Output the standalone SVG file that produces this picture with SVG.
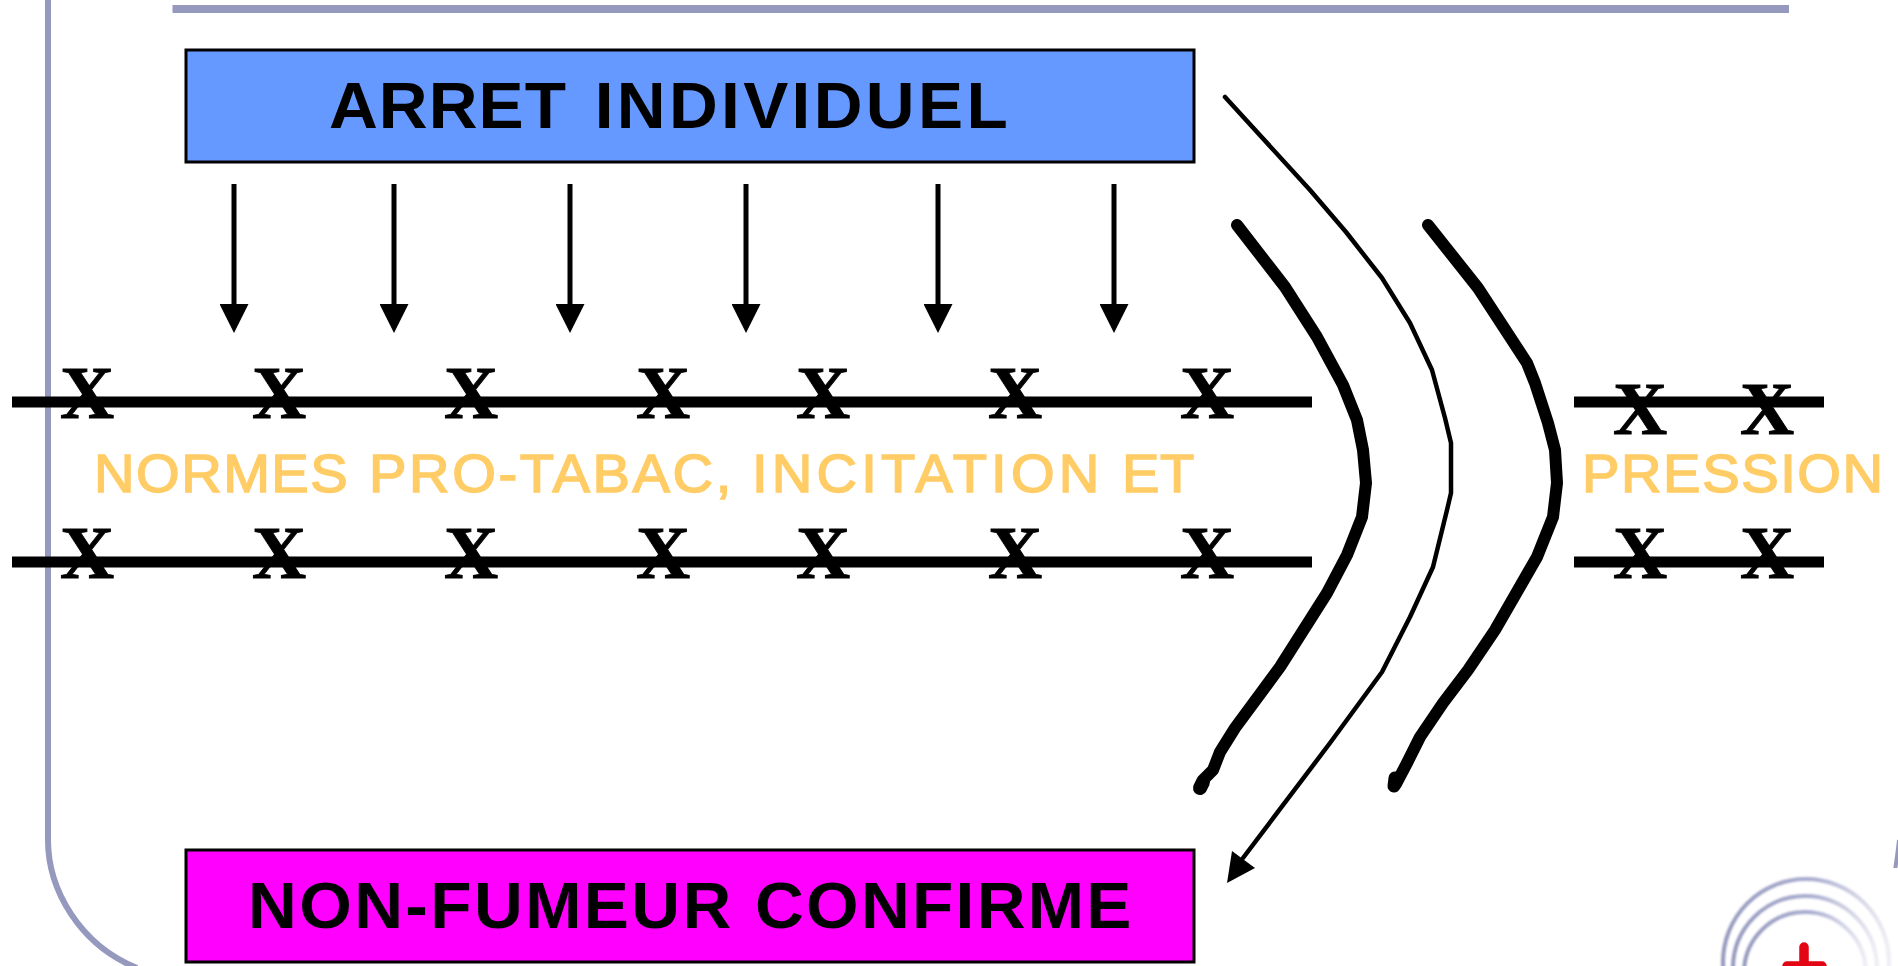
<svg xmlns="http://www.w3.org/2000/svg" width="1898" height="966" viewBox="0 0 1898 966">
<style>
.lab{font-family:"Liberation Sans",Arial,sans-serif;font-weight:700;font-size:65px;fill:#000}
.org{font-family:"Liberation Sans",Arial,sans-serif;font-weight:400;font-size:54px;fill:#ffcc66;stroke:#ffcc66;stroke-width:1.500px}
.x{font-family:"Liberation Serif","Times New Roman",serif;font-weight:700;font-size:75px;fill:#000;stroke:#000;stroke-width:.9px;text-anchor:middle}
.bar{stroke:#000;stroke-width:11;fill:none}
.frame{stroke:#9599bd;fill:none}
.box{stroke:#000;stroke-width:3}
.arrow{stroke:#000;stroke-width:5;fill:none}
.thick{stroke:#000;stroke-width:12;fill:none;stroke-linecap:round;stroke-linejoin:round}
.ring{fill:none;stroke-width:4;filter:url(#soft)}
</style>
<defs>
<marker id="head" markerUnits="userSpaceOnUse" markerWidth="29" markerHeight="29" refX="0" refY="14.5" orient="auto"><path d="M0,0L29,14.5L0,29Z" fill="#000"/></marker>
<linearGradient id="fade" x1="0" x2="1" y1="0" y2="0"><stop offset="0" stop-color="#9599bd"/><stop offset=".55" stop-color="#aaadd0"/><stop offset="1" stop-color="#eeeef4"/></linearGradient>
<filter id="soft" x="-10%" y="-10%" width="120%" height="120%"><feGaussianBlur stdDeviation=".8"/></filter>
</defs>
<rect width="1898" height="966" fill="#fff"/>
<g id="frame">
<path class="frame" stroke-width="8" d="M172.500,9H1789"/>
<path class="frame" stroke-width="6" d="M48,0V840C48,890 80,945 137,968"/>
<path class="frame" stroke-width="4" d="M1899,840Q1897,858 1895,870"/>
</g>
<g id="logo">
<rect x="1712" y="868" width="186" height="98" fill="#fff"/>
<circle class="ring" stroke="url(#fade)" cx="1806" cy="962" r="83"/>
<circle class="ring" stroke="url(#fade)" cx="1805" cy="968" r="72"/>
<circle class="ring" stroke="url(#fade)" cx="1805" cy="973" r="61"/>
<path d="M1804,947V966M1787,966H1822" stroke="#e30513" stroke-width="9.500" stroke-linecap="round" fill="none"/>
</g>
<g id="barriers">
<path class="bar" d="M12,402H1312M12,562H1312M1574,402H1824M1574,562H1824"/>
</g>
<g id="marks">
<text class="x" x="87" y="418">X</text><text class="x" x="279" y="418">X</text><text class="x" x="471" y="418">X</text><text class="x" x="663" y="418">X</text><text class="x" x="823" y="418">X</text><text class="x" x="1015" y="418">X</text><text class="x" x="1207" y="418">X</text>
<text class="x" x="87" y="578">X</text><text class="x" x="279" y="578">X</text><text class="x" x="471" y="578">X</text><text class="x" x="663" y="578">X</text><text class="x" x="823" y="578">X</text><text class="x" x="1015" y="578">X</text><text class="x" x="1207" y="578">X</text>
<text class="x" x="1640" y="434">X</text><text class="x" x="1767" y="434">X</text>
<text class="x" x="1640" y="578">X</text><text class="x" x="1767" y="578">X</text>
</g>
<g id="node-arret"><rect class="box" x="186" y="50" width="1008" height="112" fill="#6699ff"/><text class="lab" transform="translate(329,128) scale(1.04,1)"><tspan x="0" letter-spacing="1">ARRET</tspan> <tspan x="255.500" letter-spacing="3.200">INDIVIDUEL</tspan></text></g>
<g id="node-nonfumeur"><rect class="box" x="186" y="850" width="1008" height="112" fill="#ff00ff"/><text class="lab" transform="translate(248,928) scale(1.04,1)"><tspan x="0" letter-spacing="2.300">NON-FUMEUR</tspan> <tspan x="487.500" letter-spacing="2.200">CONFIRME</tspan></text></g>
<g id="label-normes"><text class="org" transform="translate(94,492) scale(1.04,1)"><tspan x="0" letter-spacing="1.400">NORMES</tspan> <tspan x="264.400" letter-spacing="2.500">PRO-TABAC,</tspan> <tspan x="632.700" letter-spacing="4">INCITATION</tspan> <tspan x="988.400" letter-spacing=".7">ET</tspan></text></g>
<g id="label-pression"><text class="org" transform="translate(1582,492) scale(1.04,1)" letter-spacing="1.500">PRESSION</text></g>
<g id="connectors">
<path class="arrow" marker-end="url(#head)" d="M234,184V304"/>
<path class="arrow" marker-end="url(#head)" d="M394,184V304"/>
<path class="arrow" marker-end="url(#head)" d="M570,184V304"/>
<path class="arrow" marker-end="url(#head)" d="M746,184V304"/>
<path class="arrow" marker-end="url(#head)" d="M938,184V304"/>
<path class="arrow" marker-end="url(#head)" d="M1114,184V304"/>
<path class="thick" d="M1237,225L1285,287L1317,337L1343,385L1357,420L1363,450L1366,483L1362,517L1347,555L1327,593L1280,667L1235,728L1220,752L1213,770L1203,780L1200,788"/>
<path class="thick" style="stroke-width:14" d="M1203,782L1200,788"/>
<path class="thick" d="M1428,225L1478,288L1527,363L1535,383L1548,423L1555,450L1557,483L1553,517L1537,557L1495,630L1468,670L1443,703L1420,737L1407,763L1396,784L1394,786"/>
<path class="thick" style="stroke-width:13" d="M1395,778L1394,786"/>
<path fill="none" stroke="#000" stroke-width="4.500" stroke-linecap="round" stroke-linejoin="round" d="M1225,97L1310,190L1346,232L1382,278L1410,323L1432,370L1445,418L1451,443V493L1447,510L1433,567L1410,617L1382,672L1330,743L1243,858"/>
<path d="M1227,883L1232,851L1255,868Z" fill="#000"/>
</g>
</svg>
